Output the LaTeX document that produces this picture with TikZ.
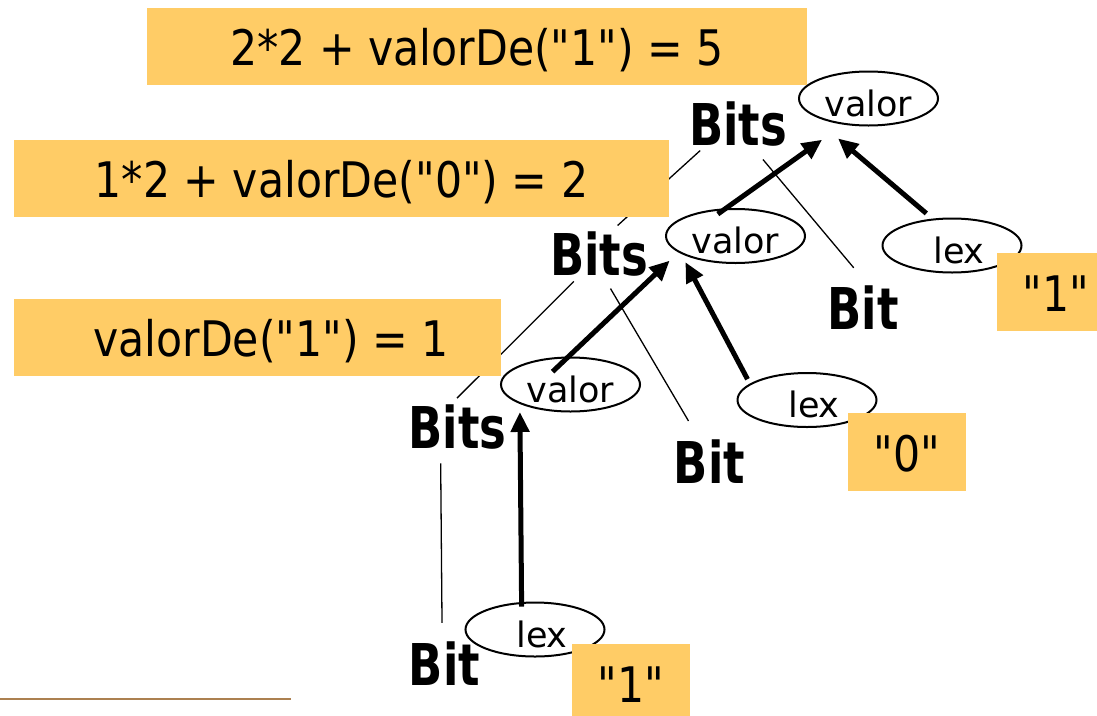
\documentclass[tikz,border=0pt]{standalone}
\usepackage{fontspec}
\setmainfont{DejaVu Sans}
\newfontfamily\boxfont[FakeStretch=0.87]{DejaVu Sans}
\newfontfamily\bitsfont[FakeStretch=0.78]{DejaVu Sans}
\usetikzlibrary{arrows.meta}
\usetikzlibrary{shapes.geometric}

\begin{document}
\begin{tikzpicture}[x=1pt, y=-1pt,
    %Option for the thick arrows
    >={Triangle[length=20pt,width=18pt]}, %
    inner sep=0pt,%
    sym/.style={font=\bitsfont\bfseries\fontsize{57.6}{60}\selectfont},
    attr/.style={draw, ellipse, line width=2pt, minimum width=139pt, minimum height=54pt,
        text height=35pt, text depth=0pt, font=\fontsize{35}{40}\selectfont},
    branch/.style={line width=1.3pt},
    dep/.style={line width=5pt,->},
    evalbox/.style={fill=boxorange, minimum height=77pt, text height=44pt, text depth=6pt,
        font=\boxfont\fontsize{49}{55}\selectfont},
    litbox/.style={evalbox, minimum width=118pt, minimum height=78pt},
]
    % Colors
    \definecolor{boxorange}{RGB}{255,204,102}
    \definecolor{rulebrown}{RGB}{172,128,80}

    \useasboundingbox (0,0) rectangle (1097,715);

    % Grammar symbols
    \node[sym] (bitsA) at (738,124)   {Bits};
    \node[sym] (bitsB) at (599,254)   {Bits};
    \node[sym] (bitsC) at (457.5,427) {Bits};
    \node[sym] (bitR)  at (863,307.5) {Bit};
    \node[sym] (bitM)  at (709.5,462) {Bit};
    \node[sym] (bitL)  at (444.5,664) {Bit};

    % Attributes
    \node[attr] (valA) at (868.5,98.5) {valor};
    \node[attr] (valB) at (735.5,236)  {valor};
    \node[attr] (valC) at (570.5,384.5){valor};
    \node[attr] (lexR) at (952,245.5)  {\hspace*{14pt}lex};
    \node[attr] (lexM) at (807,400)    {\hspace*{14pt}lex};
    \node[attr] (lexL) at (535,629.5)  {\hspace*{14pt}lex};

    % Parse tree
    \draw[branch, shorten <=6pt,  shorten >=9pt]  (bitsA.-146) -- (bitsB.62);
    \draw[branch, shorten <=17pt, shorten >=23pt] (bitsA.-58)  -- (bitR.76);
    \draw[branch, shorten <=7pt,  shorten >=9pt]  (bitsB.-132) -- (bitsC.107);
    \draw[branch, shorten <=14pt, shorten >=22pt] (bitsB.-79)  -- (bitM.114);
    \draw[branch, shorten <=14pt, shorten >=19pt] (bitsC.-127) -- (bitL.96);

    % Dependencies between attributes
    \draw[dep, shorten <=-10pt,  shorten >=26pt] (valB.109) -- (valA.-134);
    \draw[dep, shorten <=8pt,    shorten >=40pt] (lexR.126) -- (valA.-167);
    \draw[dep, shorten <=-22pt,  shorten >=12pt] (valC.94)  -- (valB.-164);
    \draw[dep, shorten <=5pt,    shorten >=9.5pt](lexM.164) -- (valB.-162);
    \draw[dep, shorten <=-4.5pt, shorten >=8pt]  (lexL.116) -- (valC.-159);

    % Computed values
    \node[evalbox, minimum width=660pt] (evalA) at (477,46)       {2*2 + valorDe("1") = 5};
    \node[evalbox, minimum width=655pt] (evalB) at (341.5,178)    {1*2 + valorDe("0") = 2};
    \node[evalbox, minimum width=487pt] (evalC) at (257.5,337.5)  {\hspace*{27pt}valorDe("1") = 1};

    % Lexemes
    \node[litbox] (litR) at (1056,292) {"1"};
    \node[litbox] (litM) at (907,452)  {"0"};
    \node[litbox] (litL) at (631,683)  {"1"};

    \draw[rulebrown, line width=2.3pt] (0,699) -- (291,699);
\end{tikzpicture}
\end{document}
